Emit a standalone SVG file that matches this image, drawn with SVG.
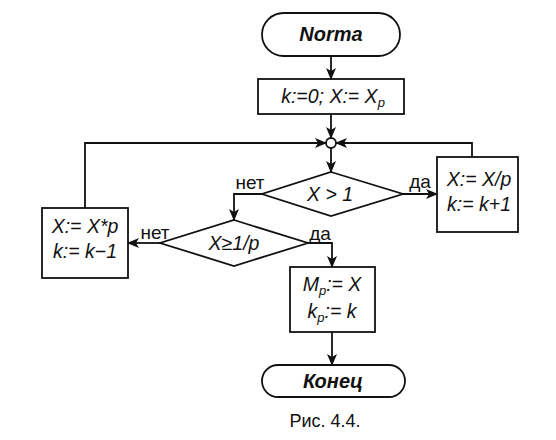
<svg xmlns="http://www.w3.org/2000/svg" width="556" height="440" viewBox="0 0 556 440">
<style>
.s{fill:#fff;stroke:#111;stroke-width:1.8}
.l{fill:none;stroke:#111;stroke-width:1.8}
.t{font-family:"Liberation Sans",Arial,sans-serif;font-size:19.5px;font-style:italic;fill:#111;text-anchor:middle}
.b{font-family:"Liberation Sans",Arial,sans-serif;font-size:20px;font-style:italic;font-weight:bold;fill:#111;text-anchor:middle}
.r{font-family:"Liberation Sans",Arial,sans-serif;font-size:19px;fill:#111;text-anchor:middle}
.c{font-family:"Liberation Sans",Arial,sans-serif;font-size:18px;fill:#111;text-anchor:middle}
.sub{font-size:13px}
</style>
<defs>
<marker id="a" viewBox="0 0 12 10" refX="11" refY="5" markerWidth="12" markerHeight="10" markerUnits="userSpaceOnUse" orient="auto">
<path d="M0,0 L12,5 L0,10 L3,5 z" fill="#111"/>
</marker>
</defs>
<rect width="556" height="440" fill="#fff"/>
<g id="connectors">
<path class="l" d="M331,56 V79" marker-end="url(#a)"/>
<path class="l" d="M331,114 V138" marker-end="url(#a)"/>
<path class="l" d="M85,208 V143 H326" marker-end="url(#a)"/>
<path class="l" d="M472,157 V143 H336" marker-end="url(#a)"/>
<path class="l" d="M331,148 V172" marker-end="url(#a)"/>
<path class="l" d="M403,194 H437" marker-end="url(#a)"/>
<path class="l" d="M262,194 H234 V220" marker-end="url(#a)"/>
<path class="l" d="M160,243 H128" marker-end="url(#a)"/>
<path class="l" d="M308,243 H332 V267" marker-end="url(#a)"/>
<path class="l" d="M332,332 V365" marker-end="url(#a)"/>
</g>
<g id="start">
<rect class="s" x="262" y="13" width="138" height="43" rx="21.5"/>
<text class="b" x="331" y="41">Norma</text>
</g>
<g id="init">
<rect class="s" x="258" y="79" width="146" height="35"/>
<text class="t" x="333" y="103">k:=0; X:= X<tspan class="sub" dy="4">p</tspan></text>
</g>
<g id="join">
<circle class="s" cx="331" cy="143" r="5"/>
</g>
<g id="cond1">
<polygon class="s" points="331,172 403,194 331,216 262,194"/>
<text class="t" x="330" y="201">X &gt; 1</text>
<text class="r" x="420" y="188">да</text>
<text class="r" x="250" y="189">нет</text>
</g>
<g id="divide">
<rect class="s" x="437" y="157" width="81" height="75"/>
<text class="t" x="479" y="186">X:= X/p</text>
<text class="t" x="479" y="211">k:= k+1</text>
</g>
<g id="cond2">
<polygon class="s" points="234,220 308,243 234,266 160,243"/>
<text class="t" x="234" y="250">X≥1/p</text>
<text class="r" x="155" y="239">нет</text>
<text class="r" x="320" y="240">да</text>
</g>
<g id="multiply">
<rect class="s" x="42" y="208" width="86" height="70"/>
<text class="t" x="85" y="233">X:= X*p</text>
<text class="t" x="85" y="258">k:= k−1</text>
</g>
<g id="result">
<rect class="s" x="290" y="267" width="85" height="65"/>
<text class="t" x="332" y="291">M<tspan class="sub" dy="4">p</tspan><tspan dy="-4">:= X</tspan></text>
<text class="t" x="332" y="318">k<tspan class="sub" dy="4">p</tspan><tspan dy="-4">:= k</tspan></text>
</g>
<g id="end">
<rect class="s" x="262" y="365" width="143" height="32" rx="16"/>
<text class="b" x="333" y="388">Конец</text>
</g>
<text class="c" x="325" y="427">Рис. 4.4.</text>
</svg>
